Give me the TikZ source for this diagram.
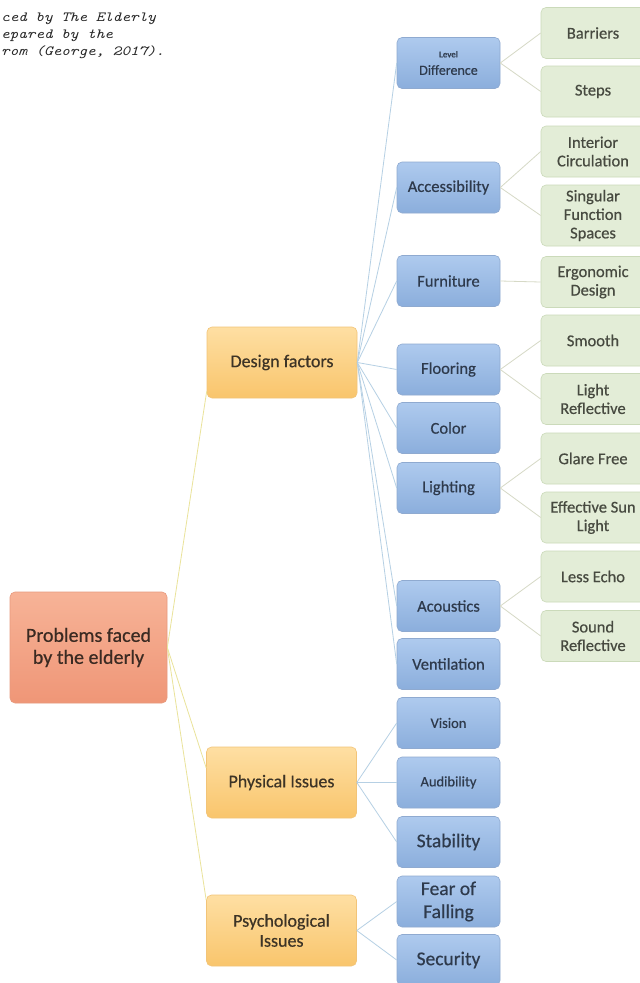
\documentclass[tikz,border=0pt]{standalone}
\usepackage{fontspec}
\setmainfont{Carlito}[FakeBold=0.5]
\usetikzlibrary{calc}

\definecolor{rootTop}{HTML}{F7B397}
\definecolor{rootBot}{HTML}{EF9677}
\definecolor{rootEdge}{HTML}{E89A7E}
\definecolor{catTop}{HTML}{FEDFA3}
\definecolor{catBot}{HTML}{F9C56C}
\definecolor{catEdge}{HTML}{F2C478}
\definecolor{blueTop}{HTML}{AECAEE}
\definecolor{blueBot}{HTML}{8BAEDC}
\definecolor{blueEdge}{HTML}{8FAAD0}
\definecolor{greenFill}{HTML}{E3EDD7}
\definecolor{greenEdge}{HTML}{CBDABA}
\definecolor{rootLine}{HTML}{EAE39A}
\definecolor{blueLine}{HTML}{B6D0E4}
\definecolor{leafLine}{HTML}{D6D9C6}
\definecolor{inkRoot}{HTML}{3A2A22}
\definecolor{inkCat}{HTML}{3D3426}
\definecolor{inkBlue}{HTML}{2E3A4C}
\definecolor{inkGreen}{HTML}{474A40}

\tikzset{
  box/.style={rectangle, rounded corners=5pt, align=center, inner sep=0pt, line width=0.6pt},
  rootbox/.style={box, draw=rootEdge, top color=rootTop, bottom color=rootBot,
    minimum width=157pt, minimum height=111pt, text=inkRoot,
    font=\fontsize{20}{22}\selectfont},
  catbox/.style={box, draw=catEdge, top color=catTop, bottom color=catBot,
    minimum width=150pt, minimum height=71pt, text=inkCat,
    font=\fontsize{18}{20}\selectfont},
  bluebox/.style={box, draw=blueEdge, top color=blueTop, bottom color=blueBot,
    minimum width=103pt, minimum height=51pt, text=inkBlue,
    font=\fontsize{16.5}{18.5}\selectfont},
  bigblue/.style={bluebox, font=\fontsize{19.5}{23}\selectfont},
  smallblue/.style={bluebox, font=\fontsize{14.5}{17}\selectfont},
  greenbox/.style={box, draw=greenEdge, fill=greenFill,
    minimum width=104pt, minimum height=51pt, text=inkGreen,
    font=\fontsize{16.5}{18.5}\selectfont},
  caption/.style={inner sep=0pt, anchor=base west, text=black!85,
    font=\fontsize{14}{16}\ttfamily\itshape},
  trunk/.style={draw=rootLine, line width=0.8pt},
  branch/.style={draw=blueLine, line width=0.8pt},
  twig/.style={draw=leafLine, line width=0.8pt},
}

\begin{document}
\begin{tikzpicture}[x=1pt,y=-1pt]
\useasboundingbox (0,0) rectangle (640,983);
\clip (0,0) rectangle (640,983);
\fill[white] (0,0) rectangle (640,983);

% caption fragment
\node[caption] (cap1) at (1,21) {\scalebox{1.17}[1]{ced by The Elderly}};
\node[caption] (cap2) at (1,38) {\scalebox{1.17}[1]{epared by the}};
\node[caption] (cap3) at (1,55) {\scalebox{1.17}[1]{rom (George, 2017).}};

% root and categories
\node[rootbox] (root) at (88.5,647.5) {Problems faced\\by the elderly};
\node[catbox] (design) at (282,362.5) {Design factors};
\node[catbox] (physical) at (281.5,782.5) {Physical Issues};
\node[catbox] (psych) at (281.5,930.5) {Psychological\\Issues};

% second level
\node[bluebox] (level) at (448.5,63) {{\fontsize{9}{10}\selectfont Level}\\[-1pt]{\fontsize{14}{16}\selectfont Difference}};
\node[bluebox] (access) at (448.5,187.5) {Accessibility};
\node[bluebox] (furn) at (448.5,281) {Furniture};
\node[bluebox] (floor) at (448.5,369.5) {Flooring};
\node[bluebox] (colr) at (448.5,428) {Color};
\node[bluebox] (light) at (448.5,488) {Lighting};
\node[bluebox] (acoust) at (448.5,606) {Acoustics};
\node[bluebox] (vent) at (448.5,664) {Ventilation};
\node[smallblue] (vision) at (448.5,723) {Vision};
\node[smallblue] (audib) at (448.5,782.5) {Audibility};
\node[bigblue] (stab) at (448.5,842) {Stability};
\node[bigblue] (fear) at (448.5,901.5) {Fear of\\Falling};
\node[bigblue] (secur) at (448.5,960) {Security};

% third level
\node[greenbox] (barr) at (593,33) {Barriers};
\node[greenbox] (steps) at (593,91.5) {Steps};
\node[greenbox] (interior) at (593,151.5) {Interior\\Circulation};
\node[greenbox, minimum height=61pt] (singular) at (593,215.5) {Singular\\Function\\Spaces};
\node[greenbox] (ergo) at (593,282) {Ergonomic\\Design};
\node[greenbox] (smooth) at (593,340.5) {Smooth};
\node[greenbox] (lrefl) at (593,399) {Light\\Reflective};
\node[greenbox] (glare) at (593,458.5) {Glare Free};
\node[greenbox] (sun) at (593,517.5) {Effective Sun\\Light};
\node[greenbox] (echo) at (593,576.5) {Less Echo};
\node[greenbox] (srefl) at (593,636) {Sound\\Reflective};

% connectors from the root
\draw[trunk] (root.east) -- (design.201);
\draw[trunk] (root.east) -- (physical.169);
\draw[trunk] (root.east) -- (psych.158);

% connectors from the categories
\foreach \t in {level,access,furn,floor,colr,light,acoust,vent}
  \draw[branch] (design.east) -- (\t.west);
\foreach \t in {vision,audib,stab}
  \draw[branch] (physical.east) -- (\t.west);
\foreach \t in {fear,secur}
  \draw[branch] (psych.east) -- (\t.west);

% connectors to the leaves
\draw[twig] (level.east) -- (barr.west);
\draw[twig] (level.east) -- (steps.west);
\draw[twig] (access.east) -- (interior.west);
\draw[twig] (access.east) -- (singular.west);
\draw[twig] (furn.east) -- (ergo.west);
\draw[twig] (floor.east) -- (smooth.west);
\draw[twig] (floor.east) -- (lrefl.west);
\draw[twig] (light.east) -- (glare.west);
\draw[twig] (light.east) -- (sun.west);
\draw[twig] (acoust.east) -- (echo.west);
\draw[twig] (acoust.east) -- (srefl.west);
\end{tikzpicture}
\end{document}
